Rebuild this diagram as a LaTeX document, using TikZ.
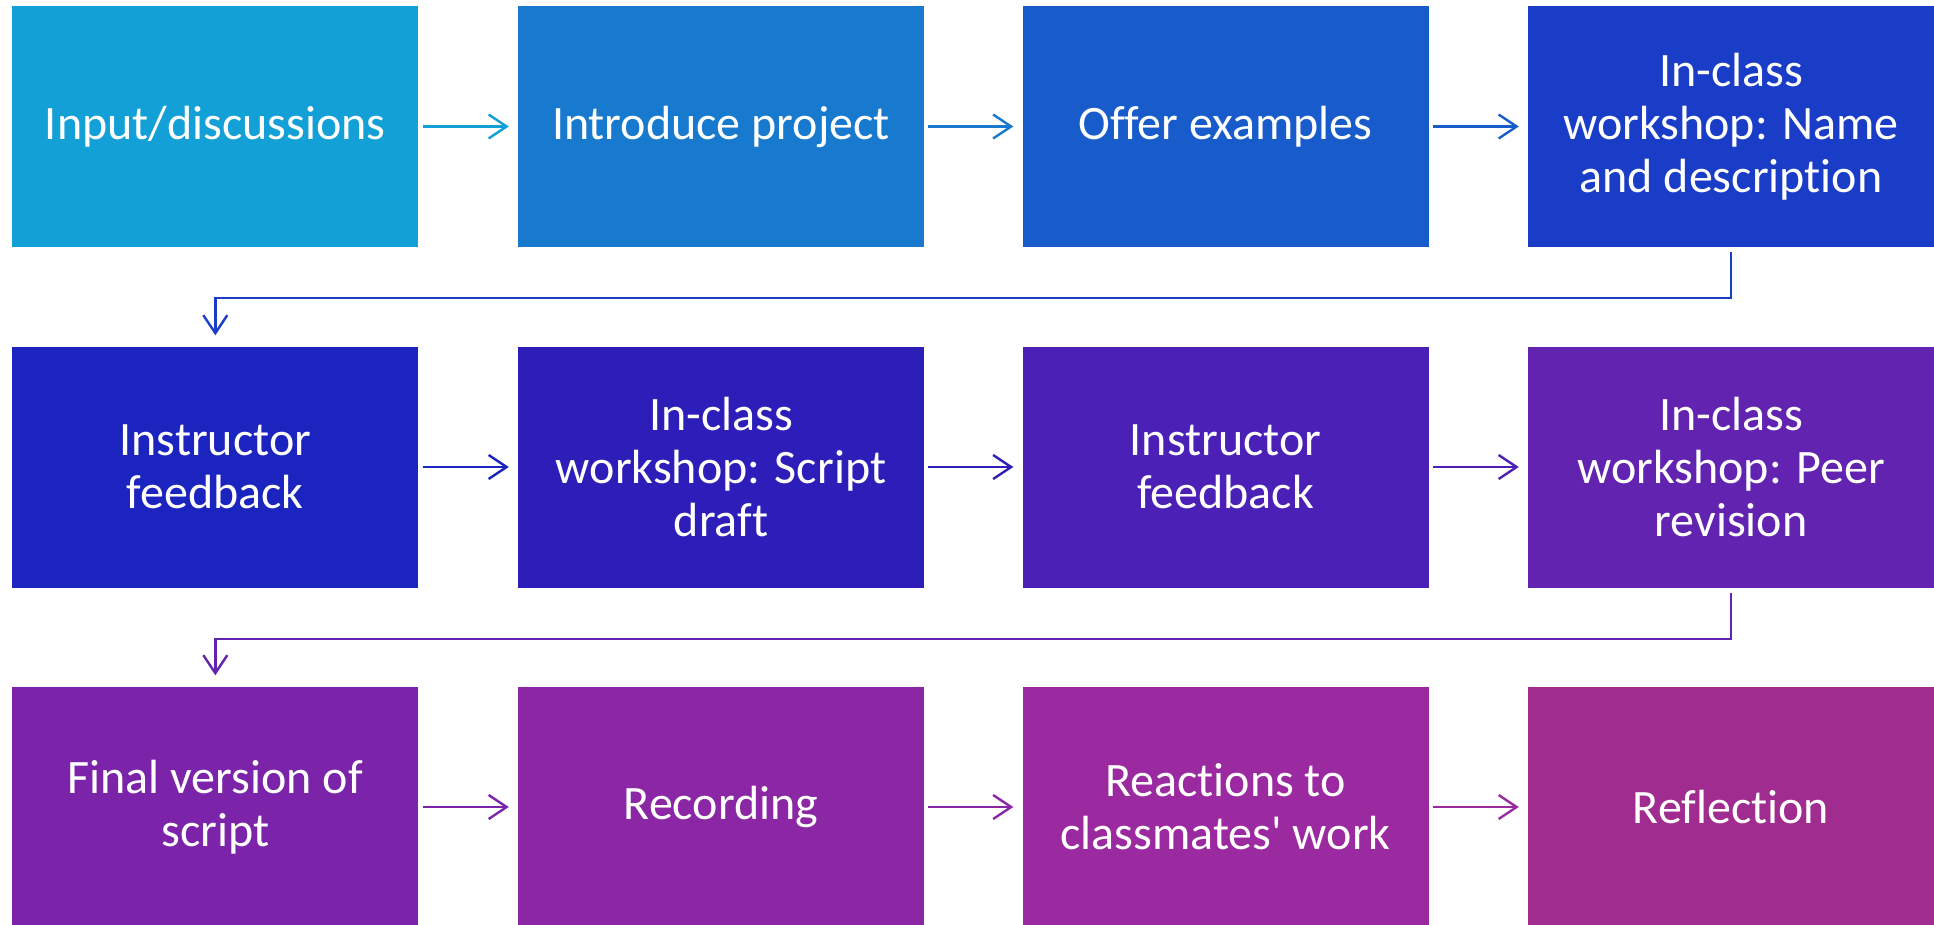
\documentclass[tikz,border=0pt]{standalone}
\usepackage{fontspec}
\newfontfamily\boxfont{Carlito}[Ligatures=NoCommon]
\usetikzlibrary{arrows.meta}
\definecolor{c1}{RGB}{18,160,215}
\definecolor{c2}{RGB}{23,122,206}
\definecolor{c3}{RGB}{24,92,204}
\definecolor{c4}{RGB}{26,61,200}
\definecolor{c5}{RGB}{28,36,192}
\definecolor{c6}{RGB}{46,30,185}
\definecolor{c7}{RGB}{74,32,182}
\definecolor{c8}{RGB}{98,36,176}
\definecolor{c9}{RGB}{123,36,170}
\definecolor{c10}{RGB}{139,39,165}
\definecolor{c11}{RGB}{155,41,160}
\definecolor{c12}{RGB}{160,44,144}
\tikzset{
  stepbox/.style={rectangle, minimum width=406pt, minimum height=241pt, inner sep=0pt,
    text=white, align=center, font=\boxfont\fontsize{48}{53}\selectfont},
  flow/.style={line width=2.4pt, -{Straight Barb[length=18pt,width=24pt,line width=2.4pt]},
    shorten <=4pt, shorten >=9pt},
  turn/.style={line width=2.4pt, -{Straight Barb[length=18pt,width=24pt,line width=2.4pt]},
    shorten <=5pt, shorten >=11pt}
}
\begin{document}
\begin{tikzpicture}[x=1pt,y=-1pt]
\useasboundingbox (0,0) rectangle (1934,924);
\fill[white] (0,0) rectangle (1934,924);
% row 1
\node[stepbox, fill=c1] (b1) at (215.3,126.5) {Input/discussions};
\node[stepbox, fill=c2] (b2) at (721,126.5) {Introduce project};
\node[stepbox, fill=c3] (b3) at (1225.5,126.5) {Offer examples};
\node[stepbox, fill=c4] (b4) at (1731,126.5) {In-class\\workshop: Name\\and description};
% row 2
\node[stepbox, fill=c5] (b5) at (215.3,467) {Instructor\\feedback};
\node[stepbox, fill=c6] (b6) at (721,467) {In-class\\workshop: Script\\draft};
\node[stepbox, fill=c7] (b7) at (1225.5,467) {Instructor\\feedback};
\node[stepbox, fill=c8] (b8) at (1731,467) {In-class\\workshop: Peer\\revision};
% row 3
\node[stepbox, fill=c9] (b9) at (215.3,807) {Final version of\\script};
\node[stepbox, fill=c10] (b10) at (721,807) {Recording};
\node[stepbox, fill=c11] (b11) at (1225.5,807) {Reactions to\\classmates' work};
\node[stepbox, fill=c12] (b12) at (1731,807) {Reflection};
% arrows
\draw[flow, c1] (b1) -- (b2);
\draw[flow, c2] (b2) -- (b3);
\draw[flow, c3] (b3) -- (b4);
\draw[flow, c5] (b5) -- (b6);
\draw[flow, c6] (b6) -- (b7);
\draw[flow, c7] (b7) -- (b8);
\draw[flow, c9] (b9) -- (b10);
\draw[flow, c10] (b10) -- (b11);
\draw[flow, c11] (b11) -- (b12);
\coordinate (k1) at (1731,298);
\coordinate (k2) at (215.3,298);
\coordinate (k3) at (1731,638.7);
\coordinate (k4) at (215.3,638.7);
\draw[turn, c4] (b4.south) -- (k1) -- (k2) -- (b5.north);
\draw[turn, c8] (b8.south) -- (k3) -- (k4) -- (b9.north);
\end{tikzpicture}
\end{document}
